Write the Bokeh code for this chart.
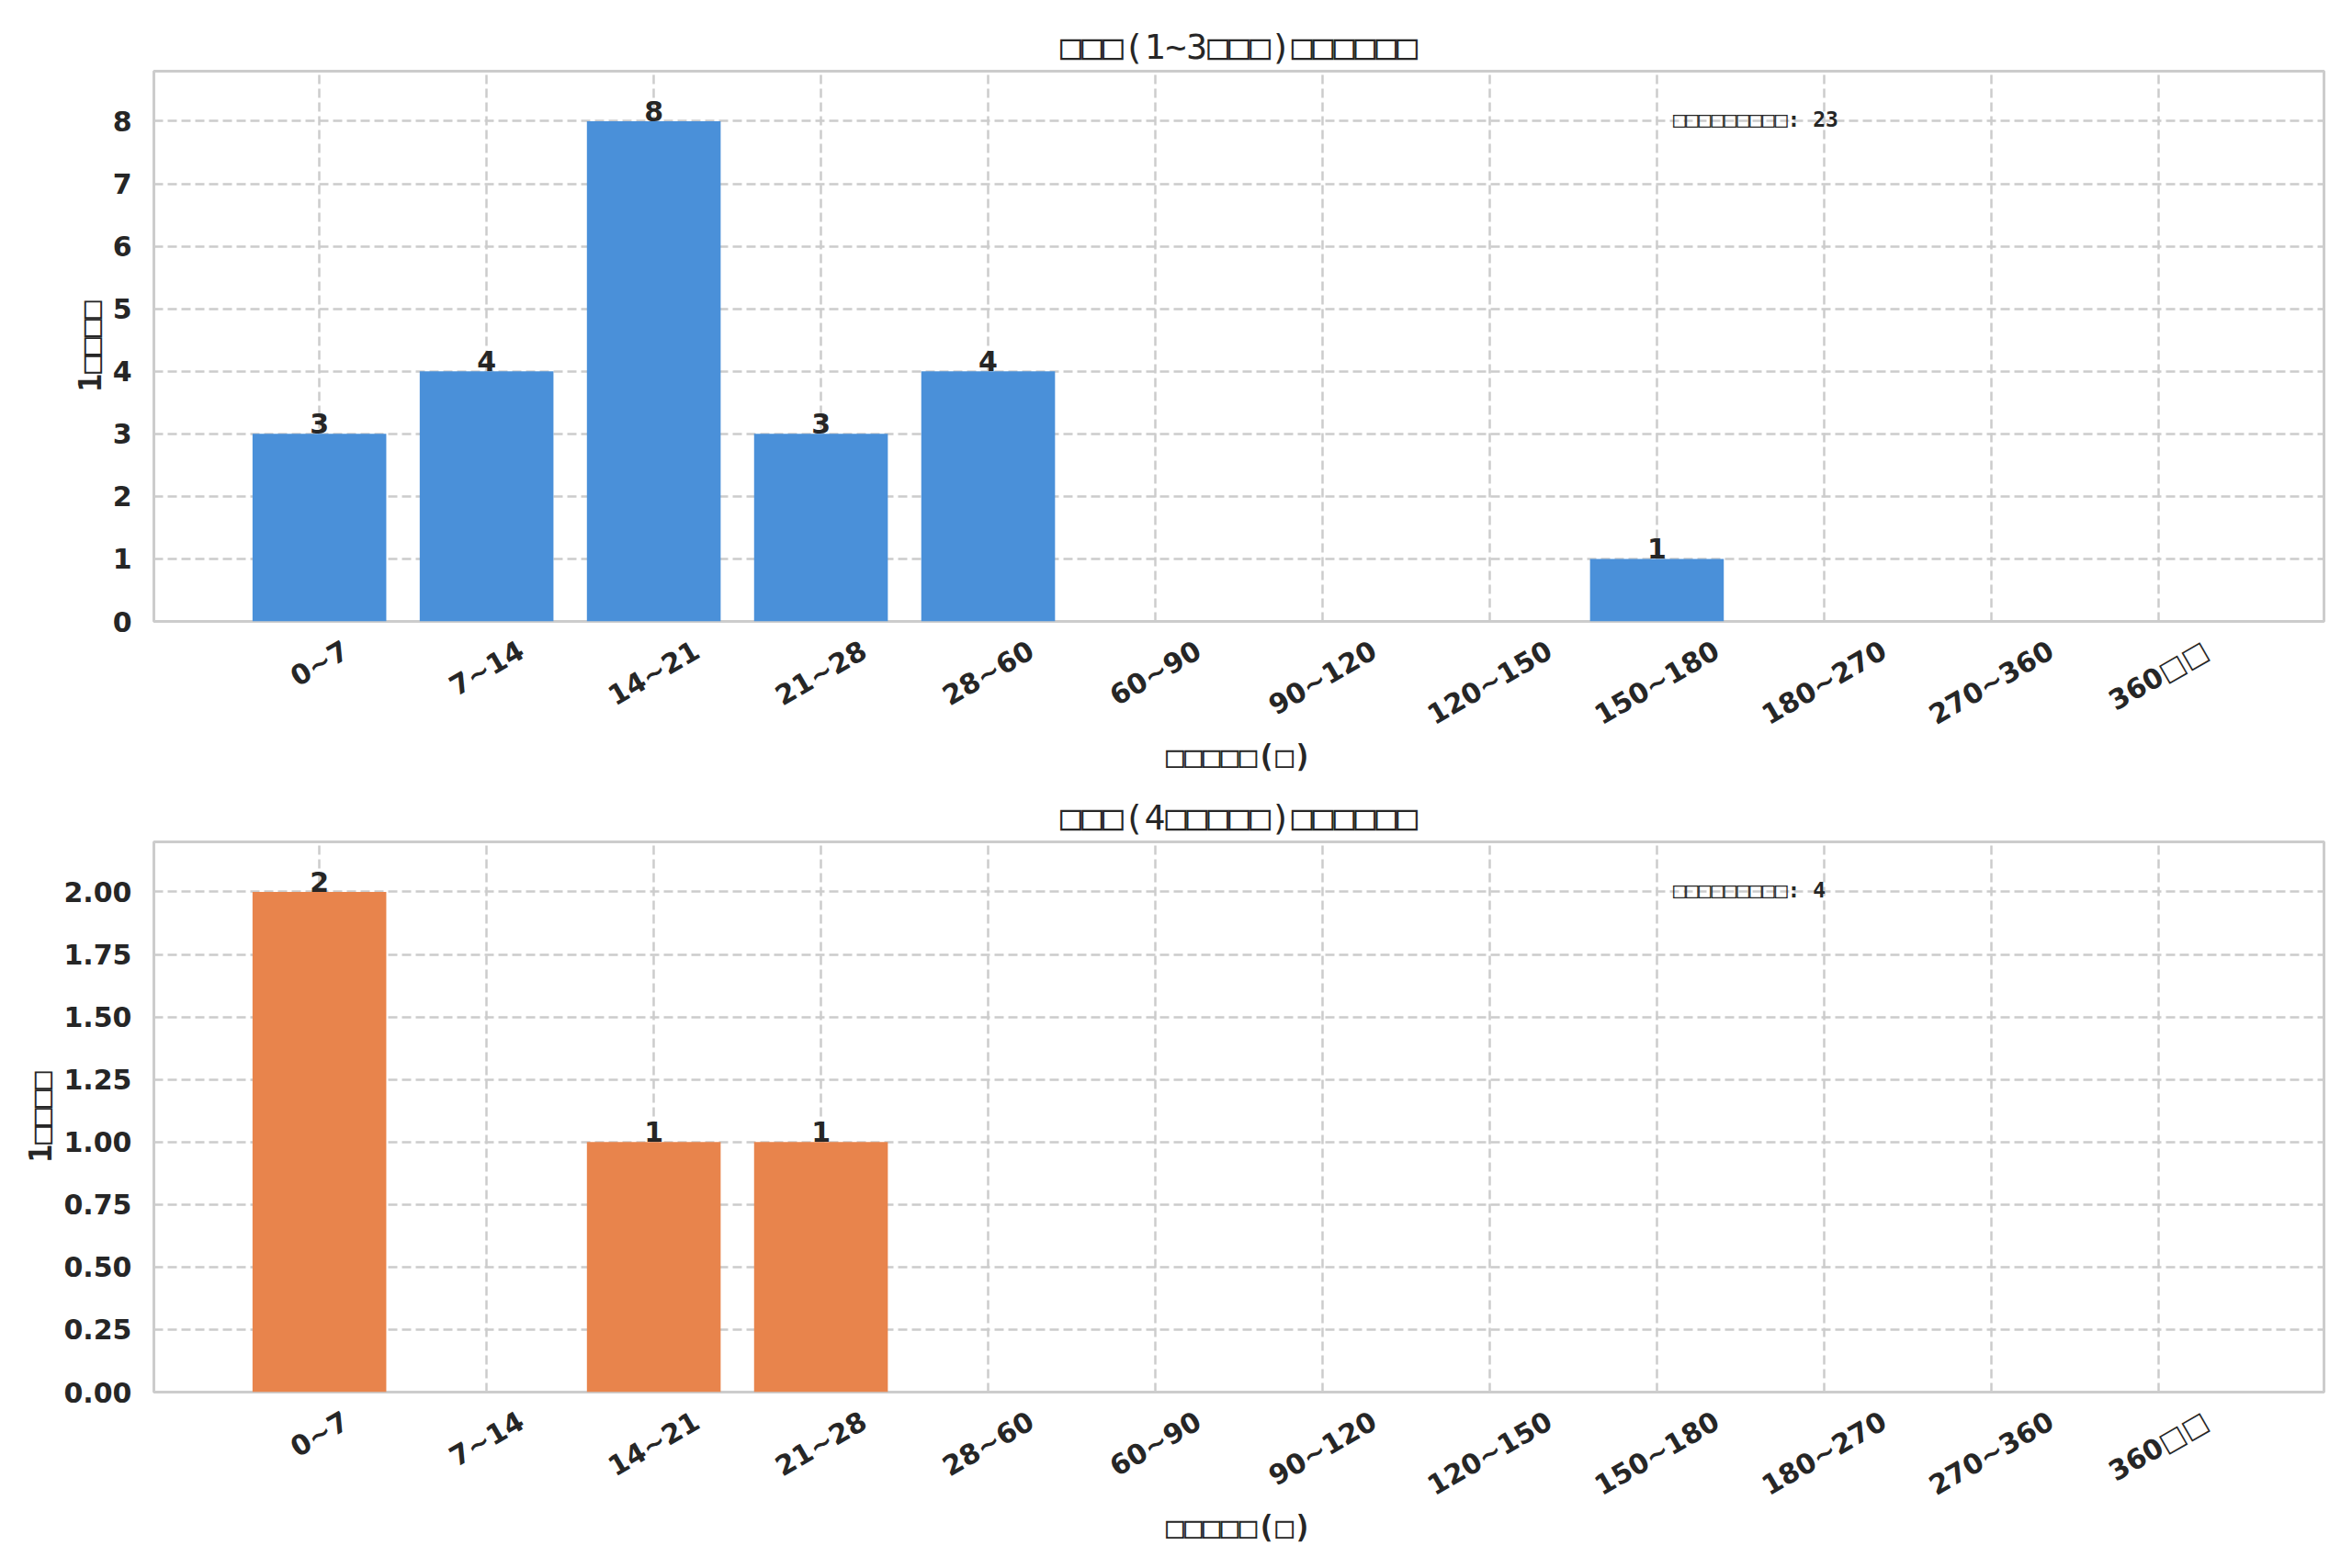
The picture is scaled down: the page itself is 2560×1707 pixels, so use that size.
import math
from bokeh.plotting import figure
from bokeh.layouts import column
from bokeh.models import (Range1d, FixedTicker, NumeralTickFormatter, Label, ColumnDataSource)
from bokeh.core.properties import value
from bokeh.embed import file_html
from bokeh.resources import INLINE

categories = ["0~7", "7~14", "14~21", "21~28", "28~60", "60~90", "90~120",
              "120~150", "150~180", "180~270", "270~360", "360□□"]
short_counts = [3, 4, 8, 3, 4, 0, 0, 0, 1, 0, 0, 0]
long_counts = [2, 0, 1, 1, 0, 0, 0, 0, 0, 0, 0, 0]

title_short = "□□□(1~3□□□)□□□□□□"
title_long = "□□□(4□□□□□)□□□□□□"
x_label = "□□□□□(□)"
y_label = "1□□□□"
total_prefix = "□□□□□□□□□"

top_ticks = [0, 1, 2, 3, 4, 5, 6, 7, 8]
bottom_ticks = [0, 0.25, 0.5, 0.75, 1.0, 1.25, 1.5, 1.75, 2.0]

FONT = "DejaVu Sans"
BOXFONT = "DejaVu Sans Mono"
DARK = "#262626"
GRID = "#cccccc"
TICK_PX = 30
ANG = math.pi / 6
FRAME_W = 2362
PAD = 0.99

# approximate advance widths (em) of DejaVu Sans Bold, used to centre rotated tick labels
ADV = {"~": 0.838, "□": 0.95}


def text_w(s):
    return sum(ADV.get(c, 0.696) for c in s) * TICK_PX


def make(title, counts, color, ticks, fmt, height, top_b, bottom_b):
    ymax = max(counts) * 1.1
    n = len(categories)
    idx = list(range(n))
    p = figure(x_range=Range1d(-PAD, n - 1 + PAD), y_range=Range1d(0, ymax),
               width=2560, height=height, output_backend="svg", toolbar_location=None,
               min_border_left=167, min_border_right=31, min_border_top=top_b,
               min_border_bottom=bottom_b, background_fill_color="white",
               border_fill_color="white")
    p.title.text = title
    p.title.text_font = BOXFONT
    p.title.text_font_size = "38px"
    p.title.text_font_style = "normal"
    p.title.text_color = DARK
    p.title.align = "center"

    src = ColumnDataSource(dict(x=idx, val=counts))
    p.vbar(x="x", top="val", width=0.8, source=src, fill_color=color, line_color=None)

    nz = [i for i, v in enumerate(counts) if v > 0]
    lab = ColumnDataSource(dict(x=nz, val=[counts[i] for i in nz],
                                txt=[str(counts[i]) for i in nz]))
    p.text(x="x", y="val", text="txt", source=lab, text_align="center",
           text_baseline="bottom", text_font=value(FONT), text_font_style="bold",
           text_font_size="30px", text_color=DARK)

    total = sum(counts)
    p.add_layout(Label(x=-PAD + 0.7 * (n - 1 + 2 * PAD), y=ymax * 0.913,
                       text=f"{total_prefix}: {total}",
                       text_font=BOXFONT, text_font_size="23px", text_font_style="bold",
                       text_color=DARK, text_align="left", text_baseline="middle"))

    # category labels: ticks nudged so each rotated label is centred under its bar
    px_per_unit = FRAME_W / (n - 1 + 2 * PAD)
    pos = [i + text_w(c) * math.cos(ANG) / 2 / px_per_unit for i, c in enumerate(categories)]
    xa = p.xaxis[0]
    xa.ticker = FixedTicker(ticks=pos)
    xa.major_label_overrides = {pv: c for pv, c in zip(pos, categories)}
    p.xgrid[0].ticker = FixedTicker(ticks=idx)

    p.yaxis.ticker = FixedTicker(ticks=ticks)
    if fmt:
        p.yaxis.formatter = NumeralTickFormatter(format=fmt)

    for ax in (xa, p.yaxis[0]):
        ax.axis_line_color = None
        ax.major_tick_line_color = None
        ax.minor_tick_line_color = None
        ax.major_label_text_font = FONT
        ax.major_label_text_font_style = "bold"
        ax.major_label_text_font_size = f"{TICK_PX}px"
        ax.major_label_text_color = DARK
        ax.axis_label_text_font = BOXFONT
        ax.axis_label_text_font_style = "bold"
        ax.axis_label_text_font_size = "33px"
        ax.axis_label_text_color = DARK
    xa.axis_label = x_label
    p.yaxis.axis_label = y_label
    xa.major_label_orientation = ANG
    xa.major_label_standoff = 23
    xa.axis_label_standoff = -10
    p.yaxis.major_label_standoff = 18
    p.yaxis.axis_label_standoff = 2

    for g in (p.xgrid[0], p.ygrid[0]):
        g.grid_line_color = GRID
        g.grid_line_dash = "10 5"
        g.grid_line_width = 2.5

    p.outline_line_color = GRID
    p.outline_line_width = 3
    return p


p1 = make(title_short, short_counts, "#4a90d9", top_ticks, None, 848, 77, 172)
p2 = make(title_long, long_counts, "#e8844c", bottom_ticks, "0.00", 859, 68, 192)

layout = column(p1, p2)
open("out.html", "w").write(file_html(layout, INLINE))
